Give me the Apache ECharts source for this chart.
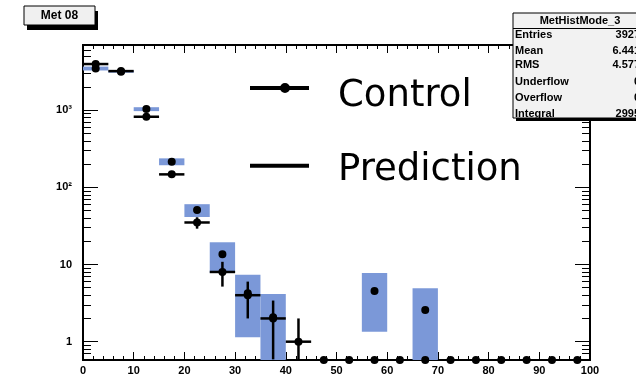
<!DOCTYPE html>
<html><head><meta charset="utf-8">
<script src="https://cdn.jsdelivr.net/npm/echarts@6/dist/echarts.min.js"></script>
<style>html,body{margin:0;padding:0;background:#fff}#c{width:636px;height:376px}</style>
</head><body><div id="c"></div>
<script>
// ---------------- data ----------------
const binCenters = [2.5,7.5,12.5,17.5,22.5,27.5,32.5,37.5,42.5,47.5,52.5,57.5,62.5,67.5,72.5,77.5,82.5,87.5,92.5,97.5];
const binWidth = 5;
const controlValues = [3950,3200,820,147,35,8,4,2,1,0,0,0,0,0,0,0,0,0,0,0];
const controlErrors = [63,57,29,12,5.9,2.83,2,1.41,1,0,0,0,0,0,0,0,0,0,0,0];
const predictionValues = [3460,3150,1030,215,50.8,13.6,4.24,2.07,0,0,0,4.54,0,2.57,0,0,0,0,0,0];
const predictionErrors = [200,100,60,22,9.6,5.8,3.1,2.08,0,0,0,3.2,0,2.35,0,0,0,0,0,0];
const xTickLabels = ['0','10','20','30','40','50','60','70','80','90','100'];
const yLabelValues = [1,10,100,1000];
const yTickLabels = ['1','10','10\u00b2','10\u00b3'];
const yMinorTickValues = [0.6,0.7,0.8,0.9,2,3,4,5,6,7,8,9,20,30,40,50,60,70,80,90,200,300,400,500,600,700,800,900,2000,3000,4000,5000,6000];
const histTitle = 'Met 08';
const statsTitle = 'MetHistMode_3';
const statsLabels = ['Entries','Mean','RMS','Underflow','Overflow','Integral'];
const statsValues = ['3927','6.441','4.577','0','0','2995'];
const legendNames = ['Control','Prediction'];

// ---------------- chart ----------------
const Y_MIN = 0.579, Y_MAX = 6970;
const X_MIN = 0, X_MAX = 100;
const BLUE = '#7b98d8';

const chart = echarts.init(document.getElementById('c'), null, {renderer:'canvas'});

const labelFont = {fontFamily:'Liberation Sans', fontSize:11, fontWeight:'bold', color:'#000'};

function yAxisDef(pos, ticks, len, withLabels) {
  return {
    type:'log', logBase:10, min:Y_MIN, max:Y_MAX, position:pos,
    axisLine:{show:true, lineStyle:{color:'#000', width:2}},
    axisTick:{show:true, inside:true, length:len, customValues:ticks, lineStyle:{color:'#000', width:1}},
    axisLabel: withLabels ? Object.assign({show:true, customValues:yLabelValues, margin:11,
      formatter:function(v){ const i = Math.round(Math.log10(v)); return yTickLabels[i] || ''; }}, labelFont)
      : {show:false},
    splitLine:{show:false}, minorTick:{show:false}
  };
}
function xAxisDef(pos, withLabels) {
  return {
    type:'value', min:X_MIN, max:X_MAX, interval:10, position:pos,
    axisLine:{show:true, onZero:false, lineStyle:{color:'#000', width:2}},
    axisTick:{show:true, inside:true, length:8, lineStyle:{color:'#000', width:1}},
    minorTick:{show:true, splitNumber:5, length:4, lineStyle:{color:'#000', width:1}},
    axisLabel: withLabels ? Object.assign({show:true, margin:5,
      formatter:function(v){ return xTickLabels[Math.round(v/10)]; }}, labelFont) : {show:false},
    splitLine:{show:false}, minorSplitLine:{show:false}
  };
}

const predData = binCenters.map((c,i)=>[c, predictionValues[i], predictionErrors[i]]);
const ctrlData = binCenters.map((c,i)=>[c, controlValues[i], controlErrors[i]]);

function renderPrediction(params, api) {
  const c = api.value(0), v = api.value(1), e = api.value(2);
  if (!(v > 0)) return null;
  const lo = Math.max(v - e, Y_MIN), hi = Math.min(v + e, Y_MAX);
  const p1 = api.coord([c - binWidth/2, hi]);
  const p2 = api.coord([c + binWidth/2, lo]);
  const pc = api.coord([c, v]);
  return {type:'group', children:[
    {type:'rect', shape:{x:p1[0], y:p1[1], width:p2[0]-p1[0], height:Math.max(p2[1]-p1[1], 1)}, style:{fill:BLUE}},
    {type:'circle', shape:{cx:pc[0], cy:pc[1], r:4}, style:{fill:'#000'}}
  ]};
}
function renderControl(params, api) {
  const c = api.value(0), v = api.value(1), e = api.value(2);
  if (!(v > 0)) {
    const pz = api.coord([c, Y_MIN]);
    return {type:'circle', shape:{cx:pz[0], cy:pz[1], r:4}, style:{fill:'#000'}};
  }
  const lo = Math.max(v - e, Y_MIN), hi = Math.min(v + e, Y_MAX);
  const pl = api.coord([c - binWidth/2, v]);
  const pr = api.coord([c + binWidth/2, v]);
  const pt = api.coord([c, hi]);
  const pb = api.coord([c, lo]);
  return {type:'group', children:[
    {type:'line', shape:{x1:pl[0], y1:pl[1], x2:pr[0], y2:pr[1]}, style:{stroke:'#000', lineWidth:2.5}},
    {type:'line', shape:{x1:pt[0], y1:pt[1], x2:pb[0], y2:pb[1]}, style:{stroke:'#000', lineWidth:2.5}},
    {type:'circle', shape:{cx:pl[0]+(pr[0]-pl[0])/2, cy:pl[1], r:4}, style:{fill:'#000'}}
  ]};
}

// icons include an invisible degenerate point below so the visible mark sits above the row centre
const controlIcon = 'path://M0,3L59,3L59,7L0,7Z M30,5A5,5,0,1,1,40,5A5,5,0,1,1,30,5Z M0,27L0.01,27L0,27Z';
const predictionIcon = 'path://M0,0L59,0L59,4L0,4Z M0,13.4L0.01,13.4L0,13.4Z';
const legendText = {fontFamily:'DejaVu Sans', fontSize:37, color:'#000', padding:[0,0,0,24]};

const statsRowsY = [35, 51, 65, 82, 98, 114];
const graphics = [
  // title box
  {type:'rect', z:100, shape:{x:27, y:11, width:71, height:19}, style:{fill:'#000'}},
  {type:'rect', z:101, shape:{x:24, y:6, width:71, height:19}, style:{fill:'#f0f0f0', stroke:'#000', lineWidth:1}},
  {type:'text', z:102, x:59.5, y:16, style:{text:histTitle, fill:'#000', font:'bold 12px "Liberation Sans"', align:'center', verticalAlign:'middle'}},
  // stats box
  {type:'rect', z:100, shape:{x:516, y:16, width:130, height:105}, style:{fill:'#000'}},
  {type:'rect', z:101, shape:{x:513, y:13, width:130, height:105}, style:{fill:'#f2f2f2', stroke:'#000', lineWidth:1}},
  {type:'line', z:102, shape:{x1:513, y1:28.5, x2:636, y2:28.5}, style:{stroke:'#000', lineWidth:1}},
  {type:'text', z:102, x:580, y:21, style:{text:statsTitle, fill:'#000', font:'bold 11px "Liberation Sans"', align:'center', verticalAlign:'middle'}}
];
statsLabels.forEach((l,i)=>{
  graphics.push({type:'text', z:102, x:515, y:statsRowsY[i], style:{text:l, fill:'#000', font:'bold 11px "Liberation Sans"', align:'left', verticalAlign:'middle'}});
  graphics.push({type:'text', z:102, x:640, y:statsRowsY[i], style:{text:statsValues[i], fill:'#000', font:'bold 11px "Liberation Sans"', align:'right', verticalAlign:'middle'}});
});

chart.setOption({
  backgroundColor:'#fff',
  animation:false,
  grid:{left:83, right:46, top:45, bottom:16, containLabel:false},
  xAxis:[xAxisDef('bottom', true), xAxisDef('top', false)],
  yAxis:[
    yAxisDef('left', yLabelValues, 15, true),
    yAxisDef('left', yMinorTickValues, 8, false),
    yAxisDef('right', yLabelValues, 15, false),
    yAxisDef('right', yMinorTickValues, 8, false)
  ],
  legend:[
    {left:250, top:78, orient:'vertical', padding:0, itemWidth:59, itemHeight:27, selectedMode:false,
     textStyle:legendText,
     data:[{name:legendNames[0], icon:controlIcon, itemStyle:{color:'#000'}}]},
    {left:250, top:152, orient:'vertical', padding:0, itemWidth:59, itemHeight:13.4, selectedMode:false,
     textStyle:legendText,
     data:[{name:legendNames[1], icon:predictionIcon, itemStyle:{color:'#000'}}]}
  ],
  series:[
    {name:legendNames[1], type:'custom', xAxisIndex:0, yAxisIndex:0, renderItem:renderPrediction, data:predData, encode:{x:0, y:1}, clip:true, z:2},
    {name:legendNames[0], type:'custom', xAxisIndex:0, yAxisIndex:0, renderItem:renderControl, data:ctrlData, encode:{x:0, y:1}, clip:false, z:3}
  ],
  graphic:graphics
});
</script></body></html>
